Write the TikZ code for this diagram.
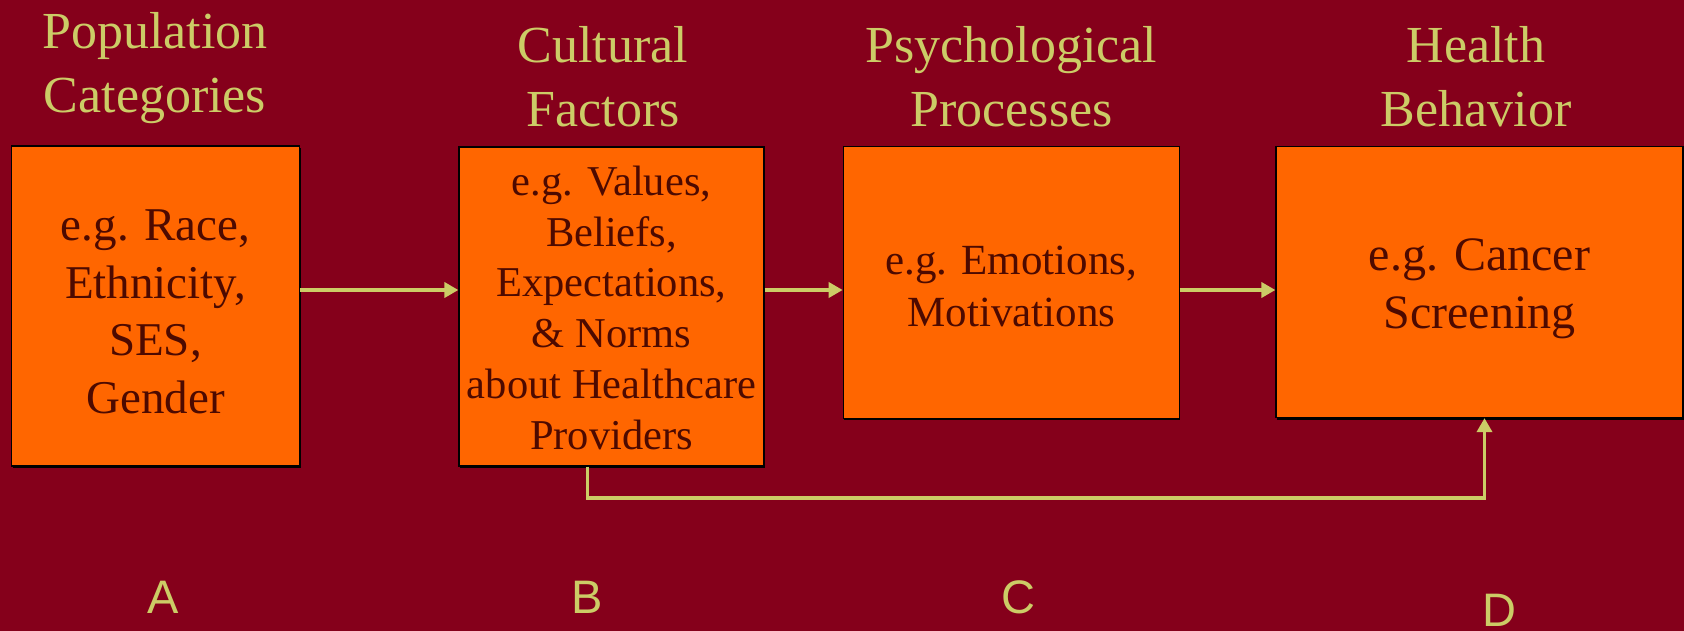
\documentclass[tikz,border=0pt]{standalone}
\usepackage{fontspec}
\setmainfont{Liberation Serif}
\newfontfamily\lettersans{Liberation Sans}
\usetikzlibrary{arrows.meta,shadows}
\definecolor{slidebg}{RGB}{133,0,27}
\definecolor{boxfill}{RGB}{255,102,0}
\definecolor{boxtext}{RGB}{77,10,0}
\definecolor{paleolive}{RGB}{204,204,102}

\begin{document}
\begin{tikzpicture}[x=1pt,y=-1pt]

\tikzstyle{stage}=[draw=black,line width=1.2pt,fill=boxfill,text=boxtext,align=center,inner sep=0pt,drop shadow={shadow xshift=1pt,shadow yshift=-2pt,fill=black,opacity=1}]
\tikzstyle{heading}=[text=paleolive,align=center,font=\fontsize{52}{64}\selectfont]
\tikzstyle{flow}=[draw=paleolive,line width=3.5pt,-{Triangle[length=14pt,width=15pt]}]
\tikzstyle{letter}=[text=paleolive,anchor=base,inner sep=0pt,font=\lettersans\fontsize{47}{56}\selectfont]

\fill[slidebg] (0,0) rectangle (1684,631);
\useasboundingbox (0,0) rectangle (1684,631);

\node[stage,minimum width=288pt,minimum height=320pt,font=\fontsize{47}{57.5}\selectfont] (A) at (155.5,306) {\rule{0pt}{42pt}e.g. Race,\\Ethnicity,\\SES,\\Gender};
\node[stage,minimum width=305pt,minimum height=319pt,font=\fontsize{42.5}{50.8}\selectfont] (B) at (611.5,306.5) {\rule{0pt}{32pt}e.g. Values,\\Beliefs,\\Expectations,\\\& Norms\\about Healthcare\\Providers};
\node[stage,minimum width=336pt,minimum height=271.5pt,font=\fontsize{43}{51.5}\selectfont] (C) at (1011.3,282.5) {\rule{0pt}{36pt}e.g. Emotions,\\Motivations};
\node[stage,minimum width=407pt,minimum height=271pt,font=\fontsize{48}{58.3}\selectfont] (D) at (1479.5,282) {\rule{0pt}{45pt}e.g. Cancer\\Screening};

\foreach \name/\x/\y/\txt in {popT/155/68.5/{Population\\Categories}, culT/603/76.5/{Cultural\\Factors}, psyT/1011.5/76.5/{Psychological\\Processes}, hlthT/1476/76.5/{Health\\Behavior}}
{
  \node[heading] (\name) at (\x,\y) {\txt};
}

\foreach \s/\x/\y in {A/163/613, B/587.5/613, C/1018/613, D/1499.5/626}
{
  \node[letter] (lbl\s) at (\x,\y) {\s};
}

\coordinate (flowline) at (0,290);
\foreach \source/\dest in {A/B, B/C, C/D}
{
  \path[flow] (\source.east |- flowline) -- (\dest.west |- flowline);
}

\coordinate (loop) at (1484.5,498);
\path[flow] ([xshift=-24pt]B.south) |- (loop) -- (D.south -| loop);
\end{tikzpicture}
\end{document}
